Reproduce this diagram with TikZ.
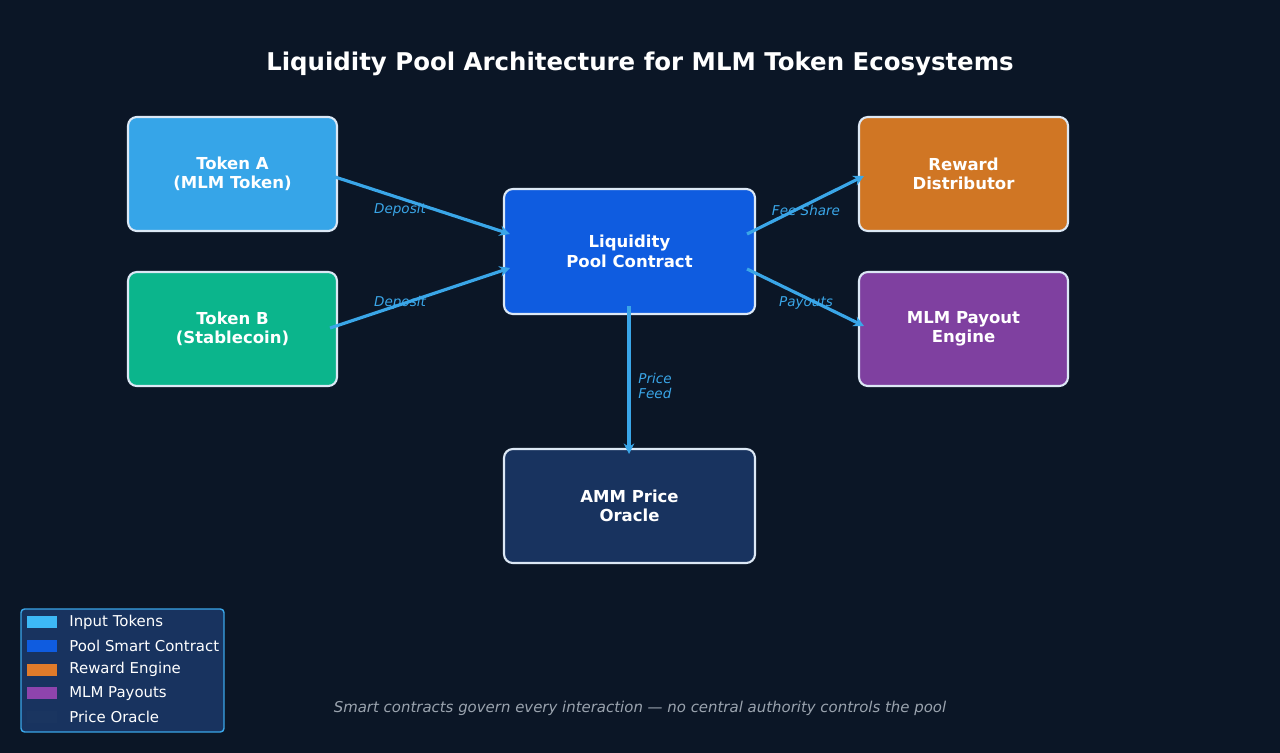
\documentclass[tikz,border=0pt]{standalone}
\usepackage{fontspec}
\setmainfont{DejaVu Sans}
\usetikzlibrary{arrows.meta,positioning}
\definecolor{BgNavy}{HTML}{0B1626}
\definecolor{EdgeWhite}{HTML}{DCE8F5}
\definecolor{TokA}{HTML}{36A5E8}
\definecolor{TokB}{HTML}{0BB58C}
\definecolor{PoolBlue}{HTML}{0F5CE0}
\definecolor{RewOrange}{HTML}{D07624}
\definecolor{PayPurple}{HTML}{7F40A0}
\definecolor{OracleNavy}{HTML}{18335F}
\definecolor{FlowBlue}{HTML}{3AA6E8}
\definecolor{FootGray}{HTML}{9AA3AE}
\definecolor{KeyA}{HTML}{3DB8F5}
\definecolor{KeyB}{HTML}{0F5CE0}
\definecolor{KeyC}{HTML}{E07B2A}
\definecolor{KeyD}{HTML}{8E44AD}
\definecolor{KeyE}{HTML}{1A3560}

\tikzset{
  box/.style={draw=EdgeWhite, line width=1.2pt, rounded corners=5pt, align=center,
    text=white, font=\bfseries\fontsize{9.4}{11}\selectfont, inner sep=0pt},
  small/.style={box, minimum width=4.18cm, minimum height=2.28cm},
  wide/.style={box, minimum width=5.02cm},
  flow/.style={draw=FlowBlue, line width=1.8pt, -{Stealth[length=6pt,width=6pt]}},
  lbl/.style={text=FlowBlue, font=\itshape\fontsize{7.7}{8.6}\selectfont},
  swatch/.style={minimum width=0.6cm, minimum height=0.24cm, inner sep=0pt},
  key/.style={text=white, font=\fontsize{8.5}{9.5}\selectfont, anchor=west, inner sep=0pt}
}

\begin{document}
\begin{tikzpicture}[x=0.02cm, y=-0.02cm]
  % background
  \fill[BgNavy] (0,0) rectangle (1280,753);
  \useasboundingbox (0,0) rectangle (1280,753);

  % title
  \node[text=white, font=\bfseries\fontsize{13.9}{15.5}\selectfont] (title) at (640,64)
    {Liquidity Pool Architecture for MLM Token Ecosystems};

  % boxes
  \node[small, fill=TokA] (tokA) at (232.5,174) {Token A\\(MLM Token)};
  \node[small, fill=TokB] (tokB) at (232.5,329) {Token B\\(Stablecoin)};
  \node[wide, fill=PoolBlue, minimum height=2.5cm] (pool) at (629.5,251.5) {Liquidity\\Pool Contract};
  \node[small, fill=RewOrange] (reward) at (963.5,174) {Reward\\Distributor};
  \node[small, fill=PayPurple] (payout) at (963.5,329) {MLM Payout\\Engine};
  \node[wide, fill=OracleNavy, minimum height=2.28cm] (oracle) at (629.5,506) {AMM Price\\Oracle};

  % arrow ends
  \coordinate (aOut) at (332,176);
  \coordinate (bOut) at (330,328);
  \coordinate (poolInA) at (510,234);
  \coordinate (poolInB) at (510,268);
  \coordinate (poolOutR) at (747,234);
  \coordinate (poolOutP) at (747,269);
  \coordinate (rewIn) at (864,176);
  \coordinate (payIn) at (864,326);
  \coordinate (poolDown) at (629,306);
  \coordinate (oracleIn) at (629,454);

  % flows
  \draw[flow] (aOut) -- (poolInA);
  \draw[flow] (bOut) -- (poolInB);
  \draw[flow] (poolOutR) -- (rewIn);
  \draw[flow] (poolOutP) -- (payIn);
  \draw[flow] (poolDown) -- (oracleIn);

  % flow labels
  \node[lbl] (depA) at (400,210) {Deposit};
  \node[lbl] (depB) at (400,303) {Deposit};
  \node[lbl] (fee) at (806,210) {Fee Share};
  \node[lbl] (pay) at (806,303) {Payouts};
  \node[lbl, anchor=west, align=left, inner sep=0pt] (feed) at (638,386) {Price\\Feed};

  % legend
  \node[draw=FlowBlue, fill=OracleNavy, line width=0.8pt, rounded corners=2pt,
    minimum width=4.06cm, minimum height=2.46cm, inner sep=0pt] (legend) at (122.5,670.5) {};
  \foreach \c/\t [count=\i] in {KeyA/Input Tokens, KeyB/Pool Smart Contract,
      KeyC/Reward Engine, KeyD/MLM Payouts, KeyE/Price Oracle} {
    \node[swatch, fill=\c] (sw\i) at (42,598.5+23.7*\i) {};
    \node[key] (key\i) at (69,598.5+23.7*\i) {\t};
  }

  % footer
  \node[text=FootGray, font=\itshape\fontsize{8.5}{9.5}\selectfont] (foot) at (640,708)
    {Smart contracts govern every interaction — no central authority controls the pool};
\end{tikzpicture}
\end{document}
